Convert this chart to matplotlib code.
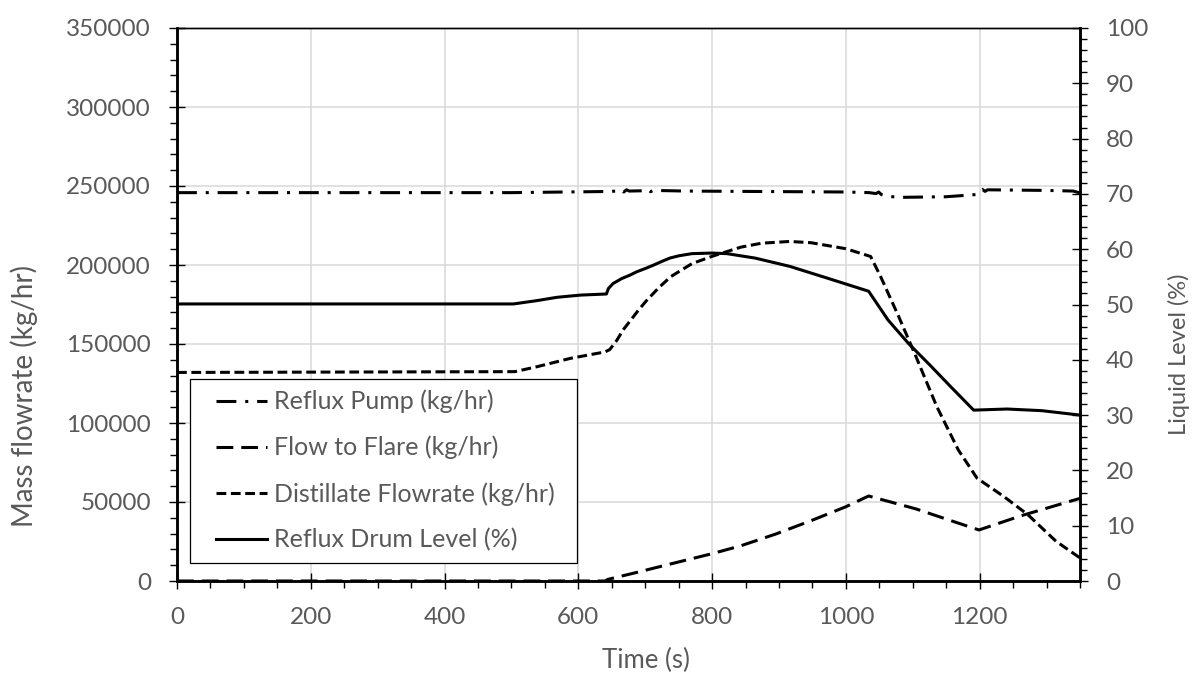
import matplotlib
matplotlib.use("Agg")
import matplotlib.pyplot as plt
from matplotlib.ticker import MultipleLocator
from matplotlib.patches import Rectangle

# ---- data ----
pump_t = [0, 500, 640, 660, 664, 668, 672, 676, 700, 704, 708, 712, 760, 1000,
          1035, 1045, 1049, 1053, 1060, 1080, 1150, 1195, 1200, 1204, 1208, 1212,
          1300, 1340, 1350]
pump_flow = [245800, 245800, 246500, 246800, 247600, 246200, 247600, 246800,
             247000, 247800, 246400, 247200, 246800, 246200, 245800, 245200,
             246200, 244600, 243600, 242800, 243200, 244600, 247000, 247900,
             246600, 247600, 247200, 246800, 245600]

flare_t = [0, 640, 644, 686, 738, 800, 843, 895, 948, 1000, 1034, 1105, 1157,
           1199, 1262, 1350]
flare_flow = [0, 0, 1000, 5300, 10800, 17300, 22300, 29700, 38200, 47000, 53800,
              45600, 38200, 32300, 41300, 52300]

dist_t = [0, 505, 538, 588, 640, 647, 657, 668, 680, 690, 702, 720, 738, 770,
          800, 843, 874, 916, 948, 1000, 1037, 1052, 1079, 1105, 1136, 1168,
          1196, 1236, 1272, 1314, 1350]
dist_flow = [132000, 132500, 135600, 140900, 145000, 146500, 152000, 159500,
             166000, 171500, 177500, 185500, 192600, 200900, 205500, 211300,
             213800, 214900, 214100, 210300, 205400, 192600, 167300, 141800,
             110300, 83000, 65100, 53500, 42000, 25200, 14600]

level_t = [0, 503, 538, 568, 603, 642, 645, 652, 665, 677, 687, 702, 712, 725,
           737, 750, 770, 800, 822, 864, 916, 974, 1034, 1063, 1094, 1126, 1157,
           1191, 1241, 1293, 1350]
level_pct = [50.1, 50.1, 50.7, 51.3, 51.7, 51.9, 52.9, 53.8, 54.7, 55.3, 55.9,
             56.6, 57.1, 57.8, 58.4, 58.8, 59.2, 59.3, 59.2, 58.4, 56.9, 54.7,
             52.4, 47.2, 42.9, 39.0, 35.1, 30.9, 31.1, 30.8, 30.0]

labels = ["Reflux Pump (kg/hr)", "Flow to Flare (kg/hr)",
          "Distillate Flowrate (kg/hr)", "Reflux Drum Level (%)"]

# ---- style ----
FONT = "Lato"
TICK_FS = 17.5
TXT = "#595959"
plt.rcParams["font.family"] = [FONT, "DejaVu Sans"]

fig = plt.figure(figsize=(12, 6.75), dpi=100)
ax = fig.add_axes([177 / 1200, 1 - 581 / 675, 903 / 1200, 553 / 675])
ax2 = ax.twinx()

LW = 2.2
l1, = ax.plot(pump_t, pump_flow, color="black", lw=LW,
              dashes=(6.5, 2.9, 1.0, 2.9))
l2, = ax.plot(flare_t, flare_flow, color="black", lw=LW, dashes=(5.5, 2.6))
l3, = ax.plot(dist_t, dist_flow, color="black", lw=LW, dashes=(3.2, 1.5))
l4, = ax2.plot(level_t, level_pct, color="black", lw=LW)

ax.set_xlim(0, 1350)
ax.set_ylim(0, 350000)
ax2.set_ylim(0, 100)

ax.xaxis.set_major_locator(MultipleLocator(200))
ax.xaxis.set_minor_locator(MultipleLocator(50))
ax.yaxis.set_major_locator(MultipleLocator(50000))
ax.yaxis.set_minor_locator(MultipleLocator(10000))
ax2.yaxis.set_major_locator(MultipleLocator(10))
ax2.yaxis.set_minor_locator(MultipleLocator(2))

ax.grid(True, which="major", color="#d9d9d9", lw=1.1)
ax.set_axisbelow(True)

for a in (ax, ax2):
    for side in ("left", "right", "bottom"):
        a.spines[side].set_linewidth(1.8)
    a.spines["top"].set_linewidth(1.0)
    a.tick_params(which="major", direction="inout", length=11.5, width=1.0,
                  colors="black", labelcolor=TXT, labelsize=TICK_FS, pad=13)
    a.tick_params(which="minor", direction="out", length=5, width=1.0,
                  colors="black")

ax.set_xlabel("Time (s)", fontsize=18.5, color=TXT)
ax.set_ylabel("Mass flowrate (kg/hr)", fontsize=20, color=TXT)
ax2.set_ylabel("Liquid Level (%)", fontsize=17, color=TXT, rotation=90)
ax.xaxis.set_label_coords(0.519, -0.121)
ax.yaxis.set_label_coords(-0.154, 0.335)
ax2.yaxis.set_label_coords(1.097, 0.41)

# legend box with entries
ax2.add_patch(Rectangle((0.0144, 0.0326), 0.4286, 0.3327, transform=ax2.transAxes,
                        facecolor="white", edgecolor="black", lw=0.9, zorder=5))
leg = ax2.legend([l1, l2, l3, l4], labels, loc="center left",
                 bbox_to_anchor=(0.0432, 0.1998), frameon=False, fontsize=18,
                 handlelength=2.05, handletextpad=0.25, labelspacing=0.9,
                 borderpad=0, borderaxespad=0)
leg.set_zorder(6)
for t in leg.get_texts():
    t.set_color(TXT)

fig.savefig("out.png", dpi=100, facecolor="white")
